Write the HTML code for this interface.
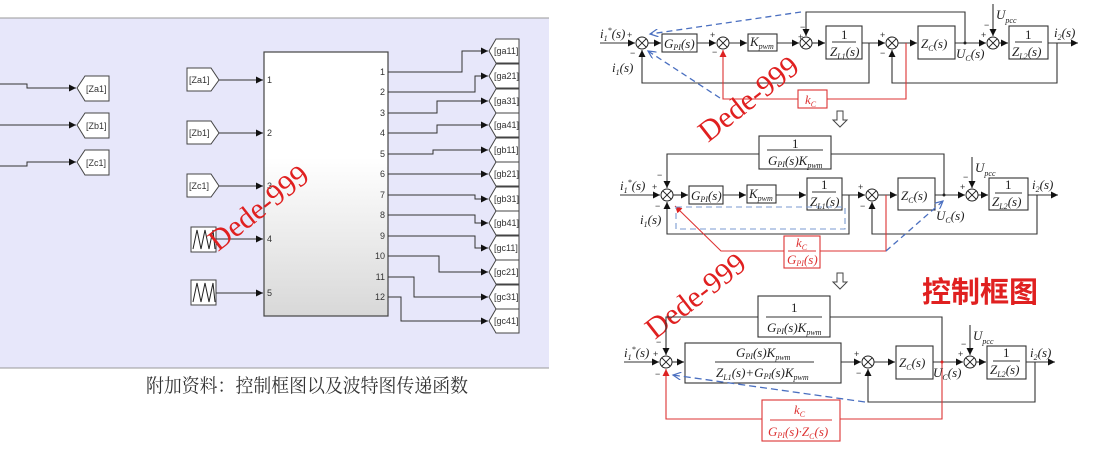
<!DOCTYPE html>
<html><head><meta charset="utf-8"><style>
html,body{margin:0;padding:0;background:#fff;width:1103px;height:451px;overflow:hidden}
svg{display:block}
.t{font-family:"Liberation Sans",sans-serif;font-size:9px;fill:#333}
.m{font-family:"Liberation Serif",serif;font-style:italic;font-size:13px;fill:#222}
.s{font-family:"Liberation Serif",serif;font-style:italic;font-size:8px;fill:#222}
.r{fill:#d33}
</style></head><body>
<svg width="1103" height="451" viewBox="0 0 1103 451" xmlns="http://www.w3.org/2000/svg">
<defs>
<marker id="a" markerWidth="8" markerHeight="8" refX="7" refY="4" orient="auto" markerUnits="userSpaceOnUse"><path d="M0,0.5 L7,4 L0,7.5z" fill="#111"/></marker>
<marker id="ar" markerWidth="8" markerHeight="8" refX="7" refY="4" orient="auto" markerUnits="userSpaceOnUse"><path d="M0,0.5 L7,4 L0,7.5z" fill="#d22"/></marker>
<marker id="ab" markerWidth="10" markerHeight="8" refX="8" refY="4" orient="auto" markerUnits="userSpaceOnUse"><path d="M0,0 L8,4 L0,8" fill="none" stroke="#4a6fc0" stroke-width="1.2"/></marker>
<linearGradient id="g" x1="0" y1="0" x2="0" y2="1"><stop offset="0.4" stop-color="#fff"/><stop offset="1" stop-color="#d8d8d8"/></linearGradient>
<g id="sum"><circle r="6" fill="#fff" stroke="#222" stroke-width="1"/><path d="M-4.2,-4.2L4.2,4.2M-4.2,4.2L4.2,-4.2" stroke="#222" stroke-width="1"/></g>
</defs>
<!-- LEFT PANEL -->
<rect x="0" y="18" width="549" height="350" fill="#e7e7fa"/>
<line x1="0" y1="18" x2="549" y2="18" stroke="#999"/>
<line x1="0" y1="368" x2="549" y2="368" stroke="#999"/>
<g stroke="#333" stroke-width="1" fill="none">
<path d="M0,84H27V88H76" marker-end="url(#a)"/>
<path d="M0,125H76" marker-end="url(#a)"/>
<path d="M0,166H27V162H76" marker-end="url(#a)"/>
</g>
<g fill="#fff" stroke="#444">
<path d="M77,88L85,76H109V101H85Z"/><path d="M77,125L85,113H109V138H85Z"/><path d="M77,162L85,150H109V175H85Z"/>
</g>
<text class="t" x="86" y="92">[Za1]</text><text class="t" x="86" y="129">[Zb1]</text><text class="t" x="86" y="166">[Zc1]</text>
<rect x="264" y="52" width="124" height="264" fill="url(#g)" stroke="#444" stroke-width="1.2"/>
<g fill="#fff" stroke="#444">
<path d="M187,68H211L219,80L211,91H187Z"/><path d="M187,121H211L219,133L211,144H187Z"/><path d="M187,174H211L219,186L211,197H187Z"/>
<rect x="191" y="227" width="25" height="25"/><rect x="191" y="280" width="25" height="25"/>
</g>
<path d="M193,249L197,230L201,249L205,230L209,249L213,230L215,249M193,302L197,283L201,302L205,283L209,302L213,283L215,302" stroke="#222" fill="none"/>
<text class="t" x="189" y="83">[Za1]</text><text class="t" x="189" y="136">[Zb1]</text><text class="t" x="189" y="189">[Zc1]</text>
<g stroke="#333" fill="none">
<path d="M219,80H263" marker-end="url(#a)"/><path d="M219,133H263" marker-end="url(#a)"/><path d="M219,186H263" marker-end="url(#a)"/>
<path d="M216,239H263" marker-end="url(#a)"/><path d="M216,293H263" marker-end="url(#a)"/>
</g>
<g class="t"><text x="267" y="83">1</text><text x="267" y="136">2</text><text x="267" y="189">3</text><text x="267" y="242">4</text><text x="267" y="296">5</text></g>
<g stroke="#333" fill="none">
<path d="M388,72H462V51H488" marker-end="url(#a)"/>
<path d="M388,92H475V76H488" marker-end="url(#a)"/>
<path d="M388,113H437V101H488" marker-end="url(#a)"/>
<path d="M388,133H437V125H488" marker-end="url(#a)"/>
<path d="M388,154H433V150H488" marker-end="url(#a)"/>
<path d="M388,174H488" marker-end="url(#a)"/>
<path d="M388,195H475V199H488" marker-end="url(#a)"/>
<path d="M388,215H475V223H488" marker-end="url(#a)"/>
<path d="M388,236H475V248H488" marker-end="url(#a)"/>
<path d="M388,256H439V272H488" marker-end="url(#a)"/>
<path d="M388,277H414V297H488" marker-end="url(#a)"/>
<path d="M388,297H401V321H488" marker-end="url(#a)"/>
</g>
<g class="t" text-anchor="end"><text x="385" y="75">1</text><text x="385" y="95">2</text><text x="385" y="116">3</text><text x="385" y="136">4</text><text x="385" y="157">5</text><text x="385" y="177">6</text><text x="385" y="198">7</text><text x="385" y="218">8</text><text x="385" y="239">9</text><text x="385" y="259">10</text><text x="385" y="280">11</text><text x="385" y="300">12</text></g>
<g fill="#fff" stroke="#444">
<path d="M489,51l7,-12h23v24h-23z"/><path d="M489,76l7,-12h23v24h-23z"/><path d="M489,101l7,-12h23v24h-23z"/><path d="M489,125l7,-12h23v24h-23z"/><path d="M489,150l7,-12h23v24h-23z"/><path d="M489,174l7,-12h23v24h-23z"/><path d="M489,199l7,-12h23v24h-23z"/><path d="M489,223l7,-12h23v24h-23z"/><path d="M489,248l7,-12h23v24h-23z"/><path d="M489,272l7,-12h23v24h-23z"/><path d="M489,297l7,-12h23v24h-23z"/><path d="M489,321l7,-12h23v24h-23z"/>
</g>
<g class="t" font-size="8"><text x="494" y="54">[ga11]</text><text x="494" y="79">[ga21]</text><text x="494" y="104">[ga31]</text><text x="494" y="128">[ga41]</text><text x="494" y="153">[gb11]</text><text x="494" y="177">[gb21]</text><text x="494" y="202">[gb31]</text><text x="494" y="226">[gb41]</text><text x="494" y="251">[gc11]</text><text x="494" y="275">[gc21]</text><text x="494" y="300">[gc31]</text><text x="494" y="324">[gc41]</text></g>
<text x="146" y="392" textLength="322" lengthAdjust="spacingAndGlyphs" font-family="'Liberation Serif','Noto Serif CJK SC',serif" font-size="19" fill="#333">附加资料：控制框图以及波特图传递函数</text>
<text transform="translate(218,252) rotate(-38)" font-family="'Liberation Serif',serif" font-size="30" fill="#e02020">Dede-999</text>

<!-- RIGHT: diagram 1 -->
<g stroke="#333" stroke-width="1.1" fill="none">
<path d="M600,43H635" marker-end="url(#a)"/>
<path d="M648,43H661" marker-end="url(#a)"/>
<path d="M697,43H716" marker-end="url(#a)"/>
<path d="M729,43H747" marker-end="url(#a)"/>
<path d="M777,43H799" marker-end="url(#a)"/>
<path d="M812,43H825" marker-end="url(#a)"/>
<path d="M862,43H885" marker-end="url(#a)"/>
<path d="M898,43H917" marker-end="url(#a)"/>
<path d="M955,43H986" marker-end="url(#a)"/>
<path d="M999,43H1008" marker-end="url(#a)"/>
<path d="M1048,43H1078" marker-end="url(#a)"/>
<path d="M869,43V83H642V50" marker-end="url(#a)"/>
<path d="M1057,43V83H892V50" marker-end="url(#a)"/>
<path d="M965,43V12H806V36" marker-end="url(#a)"/>
<path d="M993,4V36" marker-end="url(#a)"/>
<rect x="662" y="34" width="35" height="18"/><rect x="748" y="34" width="29" height="17"/>
<rect x="826" y="26" width="36" height="33"/><rect x="918" y="26" width="37" height="33"/><rect x="1009" y="26" width="39" height="33"/>
<path d="M832,42H856M1015,42H1042"/>
</g>
<circle cx="965" cy="43" r="1.5" fill="#222"/>
<use href="#sum" x="642" y="43"/><use href="#sum" x="723" y="43"/><use href="#sum" x="806" y="43"/><use href="#sum" x="892" y="43"/><use href="#sum" x="993" y="43"/>
<g stroke="#d33" stroke-width="1.1" fill="none">
<path d="M906,43V99H827M798,99H723V50" marker-end="url(#ar)"/>
<rect x="798" y="90" width="29" height="18"/>
</g>
<g stroke="#4a6fc0" stroke-width="1.3" fill="none" stroke-dasharray="6,4">
<path d="M801,12L650,34" marker-end="url(#ab)"/><path d="M720,98L648,51" marker-end="url(#ab)"/>
</g>
<g class="m">
<text x="600" y="38">i<tspan class="s" dy="3">1</tspan><tspan dy="-8" font-size="8">*</tspan><tspan dy="5">(s)</tspan></text>
<text x="612" y="72">i<tspan class="s" dy="3">1</tspan><tspan dy="-3">(s)</tspan></text>
<text x="664" y="48">G<tspan class="s" dy="2">PI</tspan><tspan dy="-2">(s)</tspan></text>
<text x="750" y="46">K<tspan class="s" dy="3">pwm</tspan></text>
<text x="841" y="39" font-style="normal">1</text>
<text x="830" y="56">Z<tspan class="s" dy="3">L1</tspan><tspan dy="-3">(s)</tspan></text>
<text x="921" y="48">Z<tspan class="s" dy="3">C</tspan><tspan dy="-3">(s)</tspan></text>
<text x="956" y="58">U<tspan class="s" dy="3">C</tspan><tspan dy="-3">(s)</tspan></text>
<text x="1025" y="39" font-style="normal">1</text>
<text x="1012" y="56">Z<tspan class="s" dy="3">L2</tspan><tspan dy="-3">(s)</tspan></text>
<text x="1054" y="37">i<tspan class="s" dy="3">2</tspan><tspan dy="-3">(s)</tspan></text>
<text x="996" y="19">U<tspan class="s" dy="4">pcc</tspan></text>
<text x="805" y="104" class="m r">k<tspan class="s r" dy="3">C</tspan></text>
</g>
<g font-family="'Liberation Sans',sans-serif" font-size="9" fill="#333">
<text x="627" y="38">+</text><text x="630" y="56">−</text><text x="710" y="38">+</text><text x="712" y="55">−</text><text x="798" y="40">+</text><text x="800" y="30">−</text><text x="880" y="38">+</text><text x="880" y="56">−</text><text x="981" y="38">+</text><text x="984" y="28">−</text>
</g>
<text transform="translate(708,143) rotate(-38)" font-family="'Liberation Serif',serif" font-size="30" fill="#e02020">Dede-999</text>
<path d="M837,111h6v9h4l-7,7l-7,-7h4z" fill="#fff" stroke="#444"/>

<!-- diagram 2 -->
<g stroke="#333" stroke-width="1.1" fill="none">
<path d="M620,195H660" marker-end="url(#a)"/>
<path d="M673,195H688" marker-end="url(#a)"/>
<path d="M723,195H746" marker-end="url(#a)"/>
<path d="M776,195H806" marker-end="url(#a)"/>
<path d="M842,195H865" marker-end="url(#a)"/>
<path d="M878,195H897" marker-end="url(#a)"/>
<path d="M935,195H965" marker-end="url(#a)"/>
<path d="M978,195H988" marker-end="url(#a)"/>
<path d="M1028,195H1058" marker-end="url(#a)"/>
<path d="M944,195V154H831M759,154H667V188" marker-end="url(#a)"/>
<path d="M849,195V234H667V202" marker-end="url(#a)"/>
<path d="M1037,195V234H872V202" marker-end="url(#a)"/>
<path d="M972,157V188" marker-end="url(#a)"/>
<rect x="759" y="136" width="72" height="33"/><rect x="689" y="186" width="34" height="18"/><rect x="747" y="185" width="29" height="18"/>
<rect x="807" y="178" width="35" height="32"/><rect x="898" y="178" width="37" height="32"/><rect x="989" y="178" width="39" height="32"/>
<path d="M767,150H823M812,192H836M995,193H1022"/>
</g>
<circle cx="944" cy="195" r="1.5" fill="#222"/>
<use href="#sum" x="667" y="195"/><use href="#sum" x="872" y="195"/><use href="#sum" x="972" y="195"/>
<g stroke="#d33" stroke-width="1.1" fill="none">
<path d="M886,195V251H820M784,251H721L675,206" marker-end="url(#ar)"/>
<rect x="784" y="236" width="36" height="32"/><path d="M788,251H816"/>
</g>
<g stroke="#7a9ad0" stroke-width="1.1" fill="none" stroke-dasharray="6,4">
<rect x="676" y="207" width="169" height="22"/>
</g>
<path d="M886,251L943,201" stroke="#4a6fc0" stroke-width="1.3" fill="none" stroke-dasharray="6,4" marker-end="url(#ab)"/>
<g class="m">
<text x="792" y="148" font-style="normal">1</text>
<text x="768" y="165">G<tspan class="s" dy="2">PI</tspan><tspan dy="-2">(s)K</tspan><tspan class="s" dy="3">pwm</tspan></text>
<text x="620" y="190">i<tspan class="s" dy="3">1</tspan><tspan dy="-8" font-size="8">*</tspan><tspan dy="5">(s)</tspan></text>
<text x="640" y="224">i<tspan class="s" dy="3">1</tspan><tspan dy="-3">(s)</tspan></text>
<text x="691" y="200">G<tspan class="s" dy="2">PI</tspan><tspan dy="-2">(s)</tspan></text>
<text x="749" y="198">K<tspan class="s" dy="3">pwm</tspan></text>
<text x="821" y="189" font-style="normal">1</text>
<text x="810" y="206">Z<tspan class="s" dy="3">L1</tspan><tspan dy="-3">(s)</tspan></text>
<text x="901" y="200">Z<tspan class="s" dy="3">C</tspan><tspan dy="-3">(s)</tspan></text>
<text x="936" y="220">U<tspan class="s" dy="3">C</tspan><tspan dy="-3">(s)</tspan></text>
<text x="1005" y="189" font-style="normal">1</text>
<text x="992" y="206">Z<tspan class="s" dy="3">L2</tspan><tspan dy="-3">(s)</tspan></text>
<text x="1032" y="189">i<tspan class="s" dy="3">2</tspan><tspan dy="-3">(s)</tspan></text>
<text x="975" y="172">U<tspan class="s" dy="4">pcc</tspan></text>
<text x="796" y="247" class="m r">k<tspan class="s r" dy="3">C</tspan></text>
<text x="787" y="264" class="m r">G<tspan class="s r" dy="2">PI</tspan><tspan dy="-2">(s)</tspan></text>
</g>
<g font-family="'Liberation Sans',sans-serif" font-size="9" fill="#333">
<text x="652" y="190">+</text><text x="657" y="178">−</text><text x="655" y="209">−</text><text x="858" y="190">+</text><text x="860" y="209">−</text><text x="960" y="190">+</text><text x="963" y="180">−</text>
</g>
<path d="M837,273h6v9h4l-7,7l-7,-7h4z" fill="#fff" stroke="#444"/>
<text x="922" y="302" font-family="'Liberation Sans','Noto Sans CJK SC',sans-serif" font-size="29" font-weight="bold" fill="#e02020">控制框图</text>
<text transform="translate(655,340) rotate(-38)" font-family="'Liberation Serif',serif" font-size="30" fill="#e02020">Dede-999</text>

<!-- diagram 3 -->
<g stroke="#333" stroke-width="1.1" fill="none">
<path d="M624,362H659" marker-end="url(#a)"/>
<path d="M672,362H684" marker-end="url(#a)"/>
<path d="M841,362H861" marker-end="url(#a)"/>
<path d="M874,362H895" marker-end="url(#a)"/>
<path d="M933,362H963" marker-end="url(#a)"/>
<path d="M976,362H986" marker-end="url(#a)"/>
<path d="M1026,362H1055" marker-end="url(#a)"/>
<path d="M942,362V317H830M758,317H666V355" marker-end="url(#a)"/>
<path d="M1035,362V402H868V369" marker-end="url(#a)"/>
<path d="M970,325V355" marker-end="url(#a)"/>
<rect x="758" y="296" width="72" height="41"/><rect x="685" y="343" width="156" height="40"/>
<rect x="896" y="346" width="37" height="33"/><rect x="987" y="346" width="39" height="33"/>
<path d="M766,317H822M715,362H814M993,361H1020"/>
</g>
<circle cx="942" cy="362" r="1.5" fill="#d22"/>
<use href="#sum" x="666" y="362"/><use href="#sum" x="868" y="362"/><use href="#sum" x="970" y="362"/>
<g stroke="#d33" stroke-width="1.1" fill="none">
<path d="M942,362V419H840M762,419H666V369" marker-end="url(#ar)"/>
<rect x="762" y="400" width="78" height="41"/><path d="M770,420H832"/>
</g>
<path d="M865,402L673,375" stroke="#4a6fc0" stroke-width="1.3" fill="none" stroke-dasharray="7,4" marker-end="url(#ab)"/>
<g class="m">
<text x="791" y="312" font-style="normal">1</text>
<text x="767" y="332">G<tspan class="s" dy="2">PI</tspan><tspan dy="-2">(s)K</tspan><tspan class="s" dy="3">pwm</tspan></text>
<text x="624" y="357">i<tspan class="s" dy="3">1</tspan><tspan dy="-8" font-size="8">*</tspan><tspan dy="5">(s)</tspan></text>
<text x="736" y="357">G<tspan class="s" dy="2">PI</tspan><tspan dy="-2">(s)K</tspan><tspan class="s" dy="3">pwm</tspan></text>
<text x="716" y="377">Z<tspan class="s" dy="3">L1</tspan><tspan dy="-3">(s)+G</tspan><tspan class="s" dy="2">PI</tspan><tspan dy="-2">(s)K</tspan><tspan class="s" dy="3">pwm</tspan></text>
<text x="899" y="367">Z<tspan class="s" dy="3">C</tspan><tspan dy="-3">(s)</tspan></text>
<text x="933" y="377">U<tspan class="s" dy="3">C</tspan><tspan dy="-3">(s)</tspan></text>
<text x="1003" y="357" font-style="normal">1</text>
<text x="990" y="374">Z<tspan class="s" dy="3">L2</tspan><tspan dy="-3">(s)</tspan></text>
<text x="1030" y="357">i<tspan class="s" dy="3">2</tspan><tspan dy="-3">(s)</tspan></text>
<text x="973" y="340">U<tspan class="s" dy="4">pcc</tspan></text>
<text x="794" y="414" class="m r">k<tspan class="s r" dy="3">C</tspan></text>
<text x="768" y="436" class="m r">G<tspan class="s r" dy="2">PI</tspan><tspan dy="-2">(s)·Z</tspan><tspan class="s r" dy="3">C</tspan><tspan dy="-3">(s)</tspan></text>
</g>
<g font-family="'Liberation Sans',sans-serif" font-size="9" fill="#333">
<text x="653" y="357">+</text><text x="656" y="345">−</text><text x="655" y="377">−</text><text x="854" y="357">+</text><text x="856" y="376">−</text><text x="958" y="357">+</text><text x="961" y="347">−</text>
</g>
</svg>
</body></html>
